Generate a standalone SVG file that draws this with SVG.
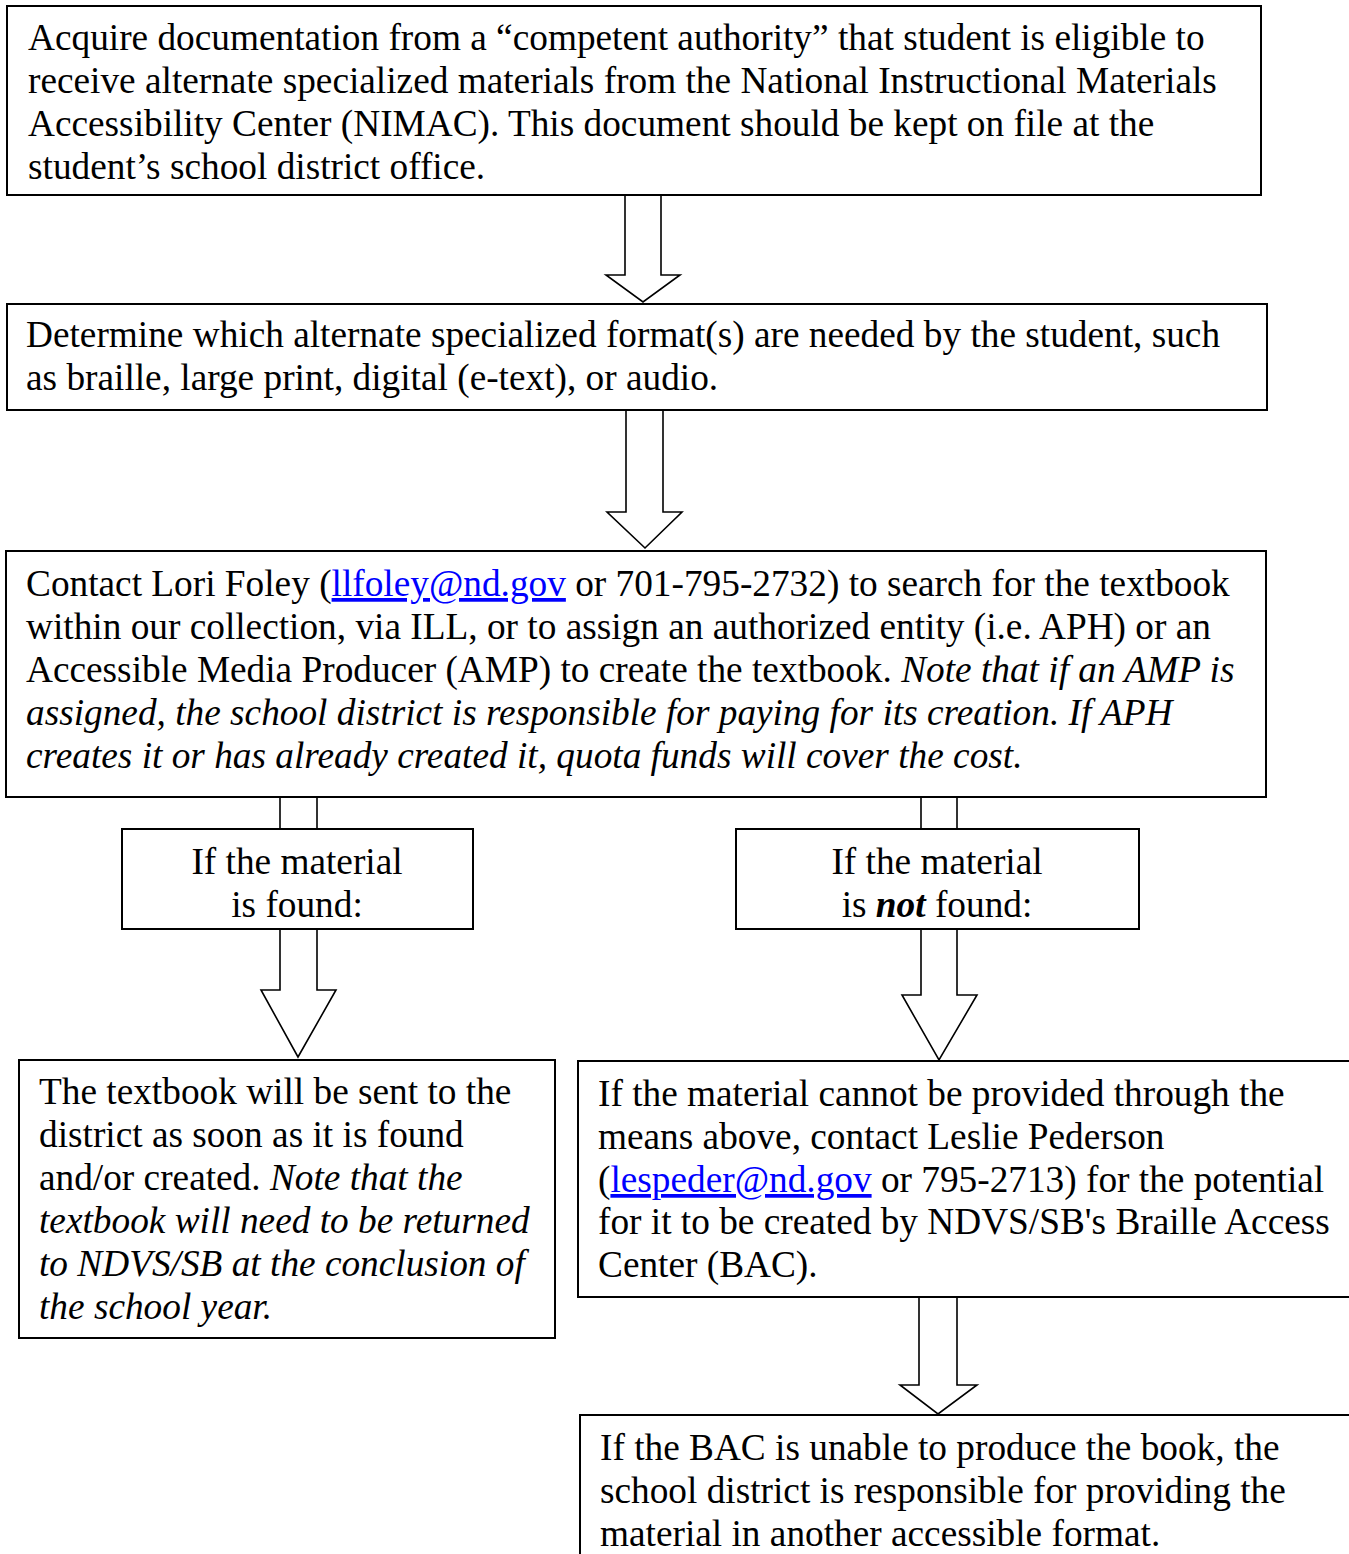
<svg xmlns="http://www.w3.org/2000/svg" width="1349" height="1554" viewBox="0 0 1349 1554">
<style>
.box{fill:#fff;stroke:#000;stroke-width:2}
.arr{fill:#fff;stroke:#000;stroke-width:1.6;stroke-linejoin:miter}
text{font-family:"Liberation Serif","Times New Roman",serif;font-size:37.3px;fill:#000}
.i{font-style:italic}
.bi{font-style:italic;font-weight:bold}
.lnk{fill:#0000FF;text-decoration:underline}
.c{text-anchor:middle}
</style>
<rect width="1349" height="1554" fill="#fff"/>
<g id="connectors">
<polygon class="arr" points="625,195 661,195 661,275 680,275 643,302 606,275 625,275"/>
<polygon class="arr" points="626,410 663,410 663,512 682,512 645,548 607,512 626,512"/>
<rect class="arr" x="280" y="797" width="37" height="32"/>
<polygon class="arr" points="280,929 317,929 317,990 336,990 298,1057 261,990 280,990"/>
<rect class="arr" x="921" y="797" width="36" height="32"/>
<polygon class="arr" points="921,929 957,929 957,995 977,995 939,1060 902,995 921,995"/>
<polygon class="arr" points="919,1297 957,1297 957,1385 977,1385 938,1414 900,1385 919,1385"/>
</g>
<g id="n1">
<rect class="box" x="7" y="6" width="1254" height="189"/>
<text x="28" y="50">Acquire documentation from a “competent authority” that student is eligible to</text>
<text x="28" y="93">receive alternate specialized materials from the National Instructional Materials</text>
<text x="28" y="136">Accessibility Center (NIMAC). This document should be kept on file at the</text>
<text x="28" y="179">student’s school district office.</text>
</g>
<g id="n2">
<rect class="box" x="7" y="304" width="1260" height="106"/>
<text x="26" y="347">Determine which alternate specialized format(s) are needed by the student, such</text>
<text x="26" y="390">as braille, large print, digital (e-text), or audio.</text>
</g>
<g id="n3">
<rect class="box" x="6" y="551" width="1260" height="246"/>
<text x="26" y="596">Contact Lori Foley (<tspan class="lnk">llfoley@nd.gov</tspan> or 701-795-2732) to search for the textbook</text>
<text x="26" y="639">within our collection, via ILL, or to assign an authorized entity (i.e. APH) or an</text>
<text x="26" y="682">Accessible Media Producer (AMP) to create the textbook. <tspan class="i">Note that if an AMP is</tspan></text>
<text x="26" y="725" class="i">assigned, the school district is responsible for paying for its creation. If APH</text>
<text x="26" y="768" class="i">creates it or has already created it, quota funds will cover the cost.</text>
</g>
<g id="n4">
<rect class="box" x="122" y="829" width="351" height="100"/>
<text x="297" y="874" class="c">If the material</text>
<text x="297" y="917" class="c">is found:</text>
</g>
<g id="n5">
<rect class="box" x="736" y="829" width="403" height="100"/>
<text x="937" y="874" class="c">If the material</text>
<text x="937" y="917" class="c">is <tspan class="bi">not</tspan> found:</text>
</g>
<g id="n6">
<rect class="box" x="19" y="1060" width="536" height="278"/>
<text x="39" y="1104">The textbook will be sent to the</text>
<text x="39" y="1147">district as soon as it is found</text>
<text x="39" y="1190">and/or created. <tspan class="i">Note that the</tspan></text>
<text x="39" y="1233" class="i">textbook will need to be returned</text>
<text x="39" y="1276" class="i">to NDVS/SB at the conclusion of</text>
<text x="39" y="1319" class="i">the school year.</text>
</g>
<g id="n7">
<rect class="box" x="578" y="1061" width="790" height="236"/>
<text x="598" y="1106">If the material cannot be provided through the</text>
<text x="598" y="1149">means above, contact Leslie Pederson</text>
<text x="598" y="1192">(<tspan class="lnk">lespeder@nd.gov</tspan> or 795-2713) for the potential</text>
<text x="598" y="1234">for it to be created by NDVS/SB's Braille Access</text>
<text x="598" y="1277">Center (BAC).</text>
</g>
<g id="n8">
<rect class="box" x="580" y="1415" width="790" height="200"/>
<text x="600" y="1460">If the BAC is unable to produce the book, the</text>
<text x="600" y="1503">school district is responsible for providing the</text>
<text x="600" y="1546">material in another accessible format.</text>
</g>
</svg>
